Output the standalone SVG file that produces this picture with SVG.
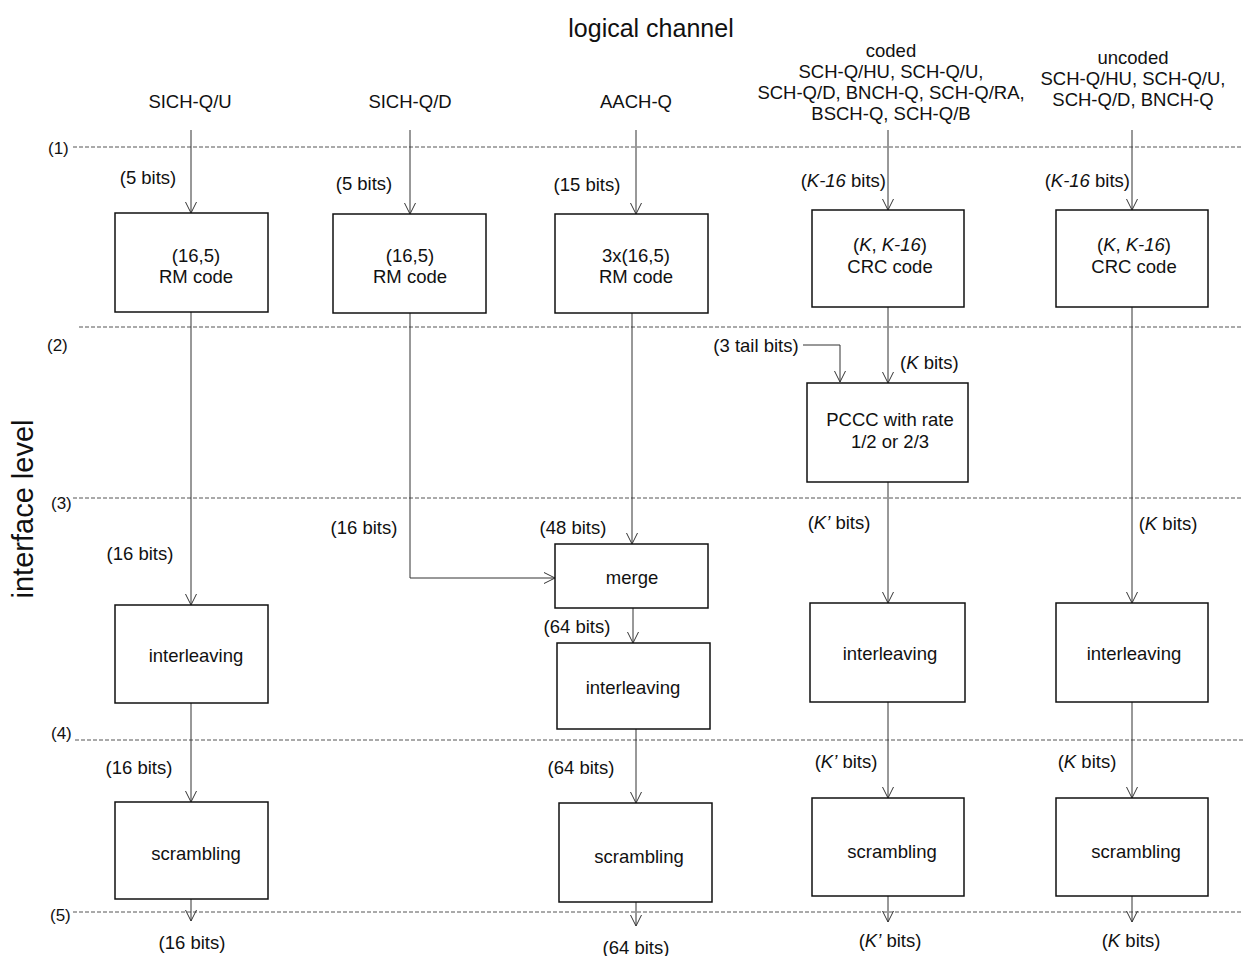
<svg xmlns="http://www.w3.org/2000/svg" width="1243" height="956" viewBox="0 0 1243 956">
<style>
text{font-family:"Liberation Sans",Arial,sans-serif;font-size:18.5px;fill:#111}
.m{text-anchor:middle}
.e{text-anchor:end}
.i{font-style:italic}
.lv{font-size:17px}
.box{fill:#fff;stroke:#111;stroke-width:1.5}
.ln{fill:none;stroke:#333;stroke-width:1}
.ar{marker-end:url(#a)}
.dash{fill:none;stroke:#555;stroke-width:1;stroke-dasharray:4 2}
</style>
<defs>
<marker id="a" markerUnits="userSpaceOnUse" markerWidth="14" markerHeight="14" viewBox="-12 -7 14 14" refX="0" refY="0" orient="auto">
<path d="M-11,-5.5 L0,0 L-11,5.5" fill="none" stroke="#333" stroke-width="1"/>
</marker>
</defs>
<rect width="1243" height="956" fill="#fff"/>

<g id="titles">
<text class="m" x="651" y="37" style="font-size:25px">logical channel</text>
<text class="m" transform="translate(33,509) rotate(-90)" style="font-size:29px">interface level</text>
</g>

<g id="levels">
<line class="dash" x1="73" y1="147" x2="1243" y2="147"/>
<line class="dash" x1="79" y1="327" x2="1243" y2="327"/>
<line class="dash" x1="73" y1="498" x2="1243" y2="498"/>
<line class="dash" x1="75" y1="740" x2="1243" y2="740"/>
<line class="dash" x1="73" y1="912" x2="1243" y2="912"/>
<text class="lv" x="48" y="154">(1)</text>
<text class="lv" x="47" y="351">(2)</text>
<text class="lv" x="51" y="509">(3)</text>
<text class="lv" x="51" y="739">(4)</text>
<text class="lv" x="50" y="921">(5)</text>
</g>

<g id="channel-labels">
<text class="m" x="190" y="108">SICH-Q/U</text>
<text class="m" x="410" y="108">SICH-Q/D</text>
<text class="m" x="636" y="108">AACH-Q</text>
<text class="m" x="891" y="57">coded</text>
<text class="m" x="891" y="78">SCH-Q/HU, SCH-Q/U,</text>
<text class="m" x="891" y="99">SCH-Q/D, BNCH-Q, SCH-Q/RA,</text>
<text class="m" x="891" y="120">BSCH-Q, SCH-Q/B</text>
<text class="m" x="1133" y="64">uncoded</text>
<text class="m" x="1133" y="85">SCH-Q/HU, SCH-Q/U,</text>
<text class="m" x="1133" y="106">SCH-Q/D, BNCH-Q</text>
</g>

<g id="connectors">
<line class="ln ar" x1="191" y1="130" x2="191" y2="213"/>
<line class="ln ar" x1="191" y1="312" x2="191" y2="605"/>
<line class="ln ar" x1="191" y1="703" x2="191" y2="802"/>
<line class="ln ar" x1="191" y1="899" x2="191" y2="921"/>

<line class="ln ar" x1="410" y1="130" x2="410" y2="214"/>
<polyline class="ln ar" points="410,313 410,578 555,578"/>

<line class="ln ar" x1="636" y1="130" x2="636" y2="214"/>
<line class="ln ar" x1="632" y1="313" x2="632" y2="544"/>
<line class="ln ar" x1="633" y1="608" x2="633" y2="643"/>
<line class="ln ar" x1="636" y1="729" x2="636" y2="803"/>
<line class="ln ar" x1="636" y1="902" x2="636" y2="926"/>

<line class="ln ar" x1="888" y1="130" x2="888" y2="210"/>
<line class="ln ar" x1="888" y1="307" x2="888" y2="383"/>
<polyline class="ln ar" points="803,345 840,345 840,382"/>
<line class="ln ar" x1="888" y1="482" x2="888" y2="603"/>
<line class="ln ar" x1="888" y1="702" x2="888" y2="798"/>
<line class="ln ar" x1="888" y1="896" x2="888" y2="922"/>

<line class="ln ar" x1="1132" y1="130" x2="1132" y2="210"/>
<line class="ln ar" x1="1132" y1="307" x2="1132" y2="603"/>
<line class="ln ar" x1="1132" y1="702" x2="1132" y2="798"/>
<line class="ln ar" x1="1132" y1="896" x2="1132" y2="922"/>
</g>

<g id="connector-labels">
<text class="m" x="148" y="184">(5 bits)</text>
<text class="m" x="364" y="190">(5 bits)</text>
<text class="m" x="587" y="191">(15 bits)</text>
<text class="e" x="886" y="187">(<tspan class="i">K-16</tspan> bits)</text>
<text class="e" x="1130" y="187">(<tspan class="i">K-16</tspan> bits)</text>
<text class="m" x="756" y="352">(3 tail bits)</text>
<text x="900" y="369">(<tspan class="i">K</tspan> bits)</text>
<text class="m" x="140" y="560">(16 bits)</text>
<text class="m" x="364" y="534">(16 bits)</text>
<text class="m" x="573" y="534">(48 bits)</text>
<text class="m" x="577" y="633">(64 bits)</text>
<text class="m" x="839" y="529">(<tspan class="i">K’</tspan> bits)</text>
<text class="m" x="1168" y="530">(<tspan class="i">K</tspan> bits)</text>
<text class="m" x="139" y="774">(16 bits)</text>
<text class="m" x="581" y="774">(64 bits)</text>
<text class="m" x="846" y="768">(<tspan class="i">K’</tspan> bits)</text>
<text class="m" x="1087" y="768">(<tspan class="i">K</tspan> bits)</text>
<text class="m" x="192" y="949">(16 bits)</text>
<text class="m" x="636" y="954">(64 bits)</text>
<text class="m" x="890" y="947">(<tspan class="i">K’</tspan> bits)</text>
<text class="m" x="1131" y="947">(<tspan class="i">K</tspan> bits)</text>
</g>

<g id="rm1"><rect class="box" x="115" y="213" width="153" height="99"/><text class="m" x="196" y="262">(16,5)</text><text class="m" x="196" y="283">RM code</text></g>
<g id="rm2"><rect class="box" x="333" y="214" width="153" height="99"/><text class="m" x="410" y="262">(16,5)</text><text class="m" x="410" y="283">RM code</text></g>
<g id="rm3"><rect class="box" x="555" y="214" width="153" height="99"/><text class="m" x="636" y="262">3x(16,5)</text><text class="m" x="636" y="283">RM code</text></g>
<g id="crc1"><rect class="box" x="812" y="210" width="152" height="97"/><text class="m" x="890" y="251">(<tspan class="i">K</tspan>, <tspan class="i">K-16</tspan>)</text><text class="m" x="890" y="273">CRC code</text></g>
<g id="crc2"><rect class="box" x="1056" y="210" width="152" height="97"/><text class="m" x="1134" y="251">(<tspan class="i">K</tspan>, <tspan class="i">K-16</tspan>)</text><text class="m" x="1134" y="273">CRC code</text></g>
<g id="pccc"><rect class="box" x="807" y="383" width="161" height="99"/><text class="m" x="890" y="426">PCCC with rate</text><text class="m" x="890" y="448">1/2 or 2/3</text></g>
<g id="merge"><rect class="box" x="555" y="544" width="153" height="64"/><text class="m" x="632" y="584">merge</text></g>
<g id="int1"><rect class="box" x="115" y="605" width="153" height="98"/><text class="m" x="196" y="662">interleaving</text></g>
<g id="int3"><rect class="box" x="557" y="643" width="153" height="86"/><text class="m" x="633" y="694">interleaving</text></g>
<g id="int4"><rect class="box" x="810" y="603" width="155" height="99"/><text class="m" x="890" y="660">interleaving</text></g>
<g id="int5"><rect class="box" x="1056" y="603" width="152" height="99"/><text class="m" x="1134" y="660">interleaving</text></g>
<g id="scr1"><rect class="box" x="115" y="802" width="153" height="97"/><text class="m" x="196" y="860">scrambling</text></g>
<g id="scr3"><rect class="box" x="559" y="803" width="153" height="99"/><text class="m" x="639" y="863">scrambling</text></g>
<g id="scr4"><rect class="box" x="812" y="798" width="152" height="98"/><text class="m" x="892" y="858">scrambling</text></g>
<g id="scr5"><rect class="box" x="1056" y="798" width="152" height="98"/><text class="m" x="1136" y="858">scrambling</text></g>
</svg>
